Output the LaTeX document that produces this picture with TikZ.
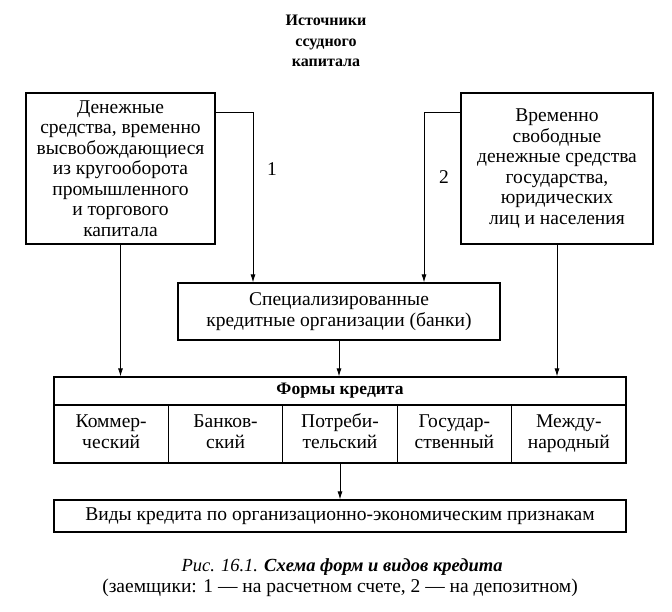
\documentclass[tikz,border=0pt]{standalone}
\usepackage{fontspec}
\setmainfont{Liberation Serif}
\usetikzlibrary{arrows.meta}

\begin{document}
\begin{tikzpicture}
        [x=1pt,y=-1pt,
        box/.style={draw,line width=1.3pt,inner sep=0,align=center,font=\fontsize{19.5}{20.5}\selectfont},
        cell/.style={box,minimum width=114.4pt,minimum height=58pt},
        arr/.style={-{Latex[length=8pt,width=5pt]},line width=0.8pt},
        every path/.style={line width=0.8pt}]

        \useasboundingbox (0,0) rectangle (672,611);

        \node[align=center,font=\bfseries\fontsize{16}{20.5}\selectfont] (title) at (326,41) {Источники\\ссудного\\капитала};

        \node[box,minimum width=189pt,minimum height=151pt] (src1) at (120.5,168.5)
          {Денежные\\средства, временно\\высвобождающиеся\\из кругооборота\\промышленного\\и торгового\\капитала};
        \node[box,minimum width=192pt,minimum height=151pt] (src2) at (557,168.5)
          {Временно\\свободные\\денежные средства\\государства,\\юридических\\лиц и населения};

        \node[box,minimum width=322pt,minimum height=57pt] (banks) at (339,311.5)
          {Специализированные\\кредитные организации (банки)};

        \node[box,minimum width=572pt,minimum height=28pt,font=\bfseries\fontsize{17.5}{18}\selectfont] (forms) at (340,391) {Формы кредита};
        \node[cell] (f1) at (111.2,434) {\strut Коммер-\\\strut ческий};
        \node[cell] (f2) at (225.6,434) {\strut Банков-\\\strut ский};
        \node[cell] (f3) at (340,434) {\strut Потреби-\\\strut тельский};
        \node[cell] (f4) at (454.4,434) {\strut Государ-\\\strut ственный};
        \node[cell] (f5) at (568.8,434) {\strut Между-\\\strut народный};

        \node[box,minimum width=572pt,minimum height=32pt] (kinds) at (340,516)
          {Виды кредита по организационно-экономическим признакам};

        \node[font=\fontsize{18.5}{20}\selectfont] (cap1) at (342,567) {\textit{Рис. 16.1.} \textbf{\textit{Схема форм и видов кредита}}};
        \node[font=\fontsize{19.5}{20}\selectfont] (cap2) at (340,588) {(заемщики: 1 — на расчетном счете, 2 — на депозитном)};

        \coordinate (k1) at (253,112);
        \coordinate (k2) at (424,112);
        \node[font=\fontsize{19.5}{20}\selectfont] (n1) at (272,169) {1};
        \node[font=\fontsize{19.5}{20}\selectfont] (n2) at (444,177) {2};

        \draw[arr] (src1.east |- k1) -| (k1 |- banks.north);
        \draw[arr] (src2.west |- k2) -| (k2 |- banks.north);
        \draw[arr] (src1.south) -- (src1.south |- forms.north);
        \draw[arr] (src2.south) -- (src2.south |- forms.north);
        \draw[arr] (banks.south) -- (banks.south |- forms.north);
        \draw[arr] (f3.south) -- (f3.south |- kinds.north);

      \end{tikzpicture}
\end{document}
